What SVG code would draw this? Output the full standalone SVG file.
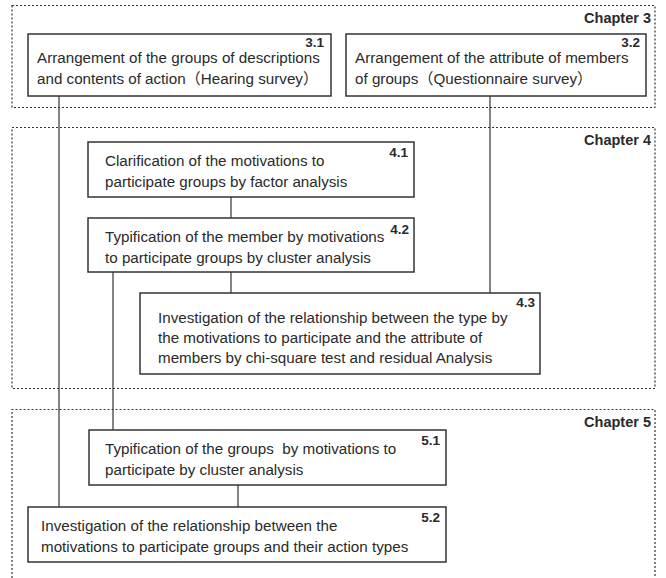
<svg xmlns="http://www.w3.org/2000/svg" width="666" height="578" viewBox="0 0 666 578">
<style>
.ch{fill:none;stroke:#333;stroke-width:1.2;stroke-dasharray:2,2}
.bx{fill:#fff;stroke:#333;stroke-width:1.5}
.ln{stroke:#333;stroke-width:1.2;fill:none}
text{font-family:"Liberation Sans","Noto Sans CJK JP",Arial,sans-serif;fill:#2a2a2a}
.t{font-size:15.2px}
.n{font-size:13.5px;font-weight:bold;text-anchor:end}
.c{font-size:14.5px;font-weight:bold;text-anchor:end}
</style>
<rect width="666" height="578" fill="#fff"/>
<g id="chapter3">
<rect class="ch" x="12" y="5.5" width="643" height="102"/>
<text class="c" x="651" y="23">Chapter 3</text>
</g>
<g id="chapter4">
<rect class="ch" x="12" y="127.5" width="643" height="261"/>
<text class="c" x="651" y="145">Chapter 4</text>
</g>
<g id="chapter5">
<path class="ch" d="M12,578 V409.5 H655 V578"/>
<text class="c" x="651" y="427">Chapter 5</text>
</g>
<g id="connectors">
<line class="ln" x1="59" y1="96" x2="59" y2="507"/>
<line class="ln" x1="490" y1="96" x2="490" y2="293"/>
<line class="ln" x1="231" y1="197" x2="231" y2="218"/>
<line class="ln" x1="231" y1="272" x2="231" y2="293"/>
<line class="ln" x1="113" y1="272" x2="113" y2="430"/>
<line class="ln" x1="238" y1="485" x2="238" y2="507"/>
</g>
<g id="n31">
<rect class="bx" x="28" y="34" width="303" height="62"/>
<text class="n" x="324" y="47">3.1</text>
<text class="t" x="37" y="63">Arrangement of the groups of descriptions</text>
<text class="t" x="37" y="84">and contents of action（Hearing survey）</text>
</g>
<g id="n32">
<rect class="bx" x="346" y="34" width="300" height="62"/>
<text class="n" x="640" y="47">3.2</text>
<text class="t" x="355" y="63">Arrangement of the attribute of members</text>
<text class="t" x="355" y="84">of groups（Questionnaire survey）</text>
</g>
<g id="n41">
<rect class="bx" x="88" y="142" width="326" height="55"/>
<text class="n" x="408" y="157">4.1</text>
<text class="t" x="105" y="166">Clarification of the motivations to</text>
<text class="t" x="105" y="187">participate groups by factor analysis</text>
</g>
<g id="n42">
<rect class="bx" x="88" y="218" width="326" height="54"/>
<text class="n" x="409" y="234">4.2</text>
<text class="t" x="105" y="242">Typification of the member by motivations</text>
<text class="t" x="105" y="263">to participate groups by cluster analysis</text>
</g>
<g id="n43">
<rect class="bx" x="140" y="293" width="400" height="81"/>
<text class="n" x="535" y="307">4.3</text>
<text class="t" x="158" y="323">Investigation of the relationship between the type by</text>
<text class="t" x="158" y="343">the motivations to participate and the attribute of</text>
<text class="t" x="158" y="363">members by chi-square test and residual Analysis</text>
</g>
<g id="n51">
<rect class="bx" x="89" y="430" width="357" height="55"/>
<text class="n" x="440" y="445">5.1</text>
<text class="t" x="105" y="454">Typification of the groups&#160; by motivations to</text>
<text class="t" x="105" y="475">participate by cluster analysis</text>
</g>
<g id="n52">
<rect class="bx" x="28" y="507" width="418" height="55"/>
<text class="n" x="440" y="522">5.2</text>
<text class="t" x="41" y="531">Investigation of the relationship between the</text>
<text class="t" x="41" y="552">motivations to participate groups and their action types</text>
</g>
</svg>
